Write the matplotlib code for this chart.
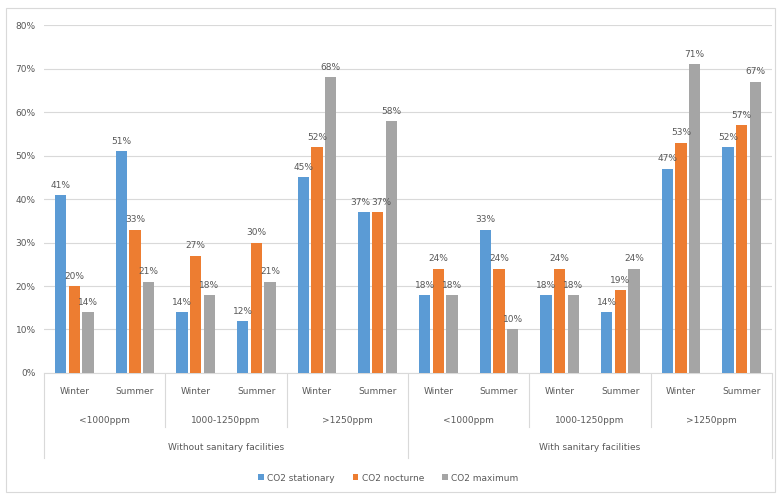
import matplotlib.pyplot as plt
import matplotlib.transforms as mtransforms
from matplotlib.patches import Rectangle
import numpy as np

seasons = ["Winter", "Summer"] * 6
levels = ["<1000ppm", "1000-1250ppm", ">1250ppm"] * 2
groups = ["Without sanitary facilities", "With sanitary facilities"]
series_names = ["CO2 stationary", "CO2 nocturne", "CO2 maximum"]

co2_stationary = [41, 51, 14, 12, 45, 37, 18, 33, 18, 14, 47, 52]
co2_nocturne = [20, 33, 27, 30, 52, 37, 24, 24, 24, 19, 53, 57]
co2_maximum = [14, 21, 18, 21, 68, 58, 18, 10, 18, 24, 71, 67]

colors = ["#5B9BD5", "#ED7D31", "#A5A5A5"]
text_c = "#595959"
grid_c = "#D9D9D9"

fig = plt.figure(figsize=(7.77, 4.94), dpi=100)
fig.patches.append(Rectangle((0.008, 0.004), 0.99, 0.98, transform=fig.transFigure,
                             fill=False, edgecolor="#D9D9D9", linewidth=0.8))
ax = fig.add_axes([0.0566, 0.245, 0.937, 0.704])

n = len(seasons)
x = np.arange(n)
step = 0.225
width = 0.19
all_series = [co2_stationary, co2_nocturne, co2_maximum]
for i, (vals, col, name) in enumerate(zip(all_series, colors, series_names)):
    xs = x + (i - 1) * step
    ax.bar(xs, vals, width=width, color=col, label=name, zorder=3)

# value labels; labels of neighbouring bars with near-equal heights are spread apart
for j in range(n):
    vals = [s[j] for s in all_series]
    for i, v in enumerate(vals):
        dx = 0.0
        if i > 0 and abs(vals[i - 1] - v) < 3:
            dx += 0.055
        if i < 2 and abs(vals[i + 1] - v) < 3:
            dx -= 0.055
        ax.text(j + (i - 1) * step + dx, v + 1.2, f"{v}%", ha="center", va="bottom",
                fontsize=6.5, color=text_c, zorder=4)

ax.set_xlim(-0.5, n - 0.5)
ax.set_ylim(0, 80)
ax.set_yticks(range(0, 81, 10))
ax.set_yticklabels([f"{t}%" for t in range(0, 81, 10)])
ax.tick_params(axis="y", length=0, labelsize=6.5, colors=text_c, pad=6)
ax.tick_params(axis="x", length=0, labelbottom=False)
ax.grid(axis="y", color=grid_c, linewidth=0.8, zorder=0)
for s in ["top", "right", "left"]:
    ax.spines[s].set_visible(False)
ax.spines["bottom"].set_color(grid_c)
ax.spines["bottom"].set_linewidth(0.8)

trans = mtransforms.blended_transform_factory(ax.transData, fig.transFigure)
def fy(py):
    return 1 - py / 494

# season row
for xi, s in zip(x, seasons):
    ax.text(xi, fy(391), s, transform=trans, ha="center", va="center",
            fontsize=6.5, color=text_c)
# level row
for k, lv in enumerate(levels):
    ax.text(2 * k + 0.5, fy(420), lv, transform=trans, ha="center", va="center",
            fontsize=6.5, color=text_c)
# group row
for g, gname in enumerate(groups):
    ax.text(6 * g + 2.5, fy(447), gname, transform=trans, ha="center", va="center",
            fontsize=6.5, color=text_c)

# separators of the multi-level axis
for k in range(0, n + 1, 2):
    bottom = fy(458) if k % 6 == 0 else fy(427)
    ax.plot([k - 0.5, k - 0.5], [fy(374), bottom], transform=trans,
            color=grid_c, linewidth=0.8, clip_on=False)

leg = fig.legend(loc="center", bbox_to_anchor=(0.5, 1 - 478 / 494), ncol=3,
                 frameon=False, fontsize=6.5, handlelength=0.6, handleheight=0.6,
                 columnspacing=2.0, handletextpad=0.4)
for t in leg.get_texts():
    t.set_color(text_c)

fig.savefig("out.png", dpi=100)
